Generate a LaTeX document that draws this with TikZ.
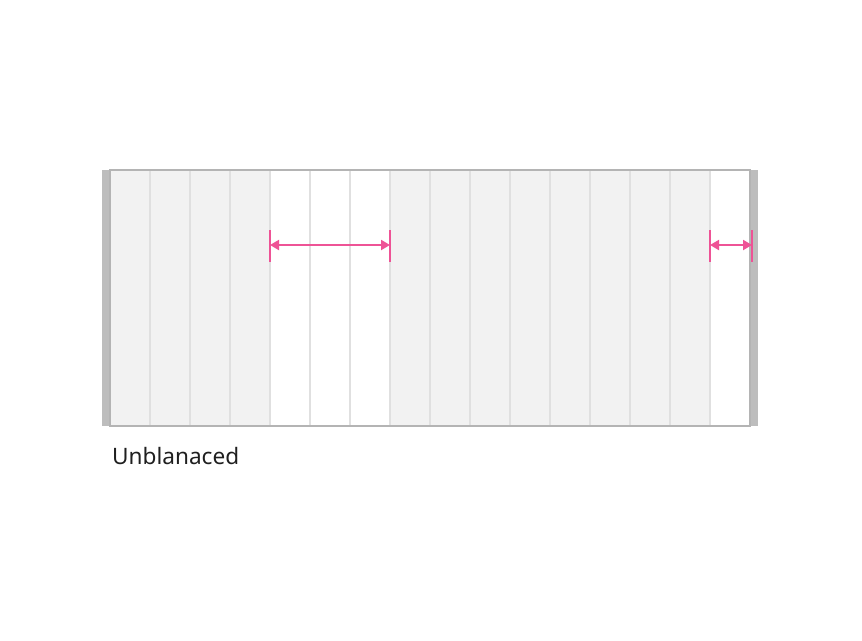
\documentclass[tikz,border=0pt]{standalone}
\usepackage{fontspec}
\setmainfont{Noto Sans}
\usetikzlibrary{arrows.meta,positioning}
\definecolor{colfill}{HTML}{F2F2F2}
\definecolor{colline}{HTML}{E0E0E0}
\definecolor{frameline}{HTML}{B4B4B4}
\definecolor{gutterbar}{HTML}{BDBDBD}
\definecolor{markpink}{HTML}{EE5396}

\begin{document}
\begin{tikzpicture}[x=1pt,y=-1pt,>={Triangle[length=9pt,width=10pt]},
   every node/.style={font=\fontsize{22.6}{27}\selectfont},
   mark line/.style={markpink,line width=2pt},
   tick/.style={markpink,line width=2pt}]
  \useasboundingbox (0,0) rectangle (862,640);
  % gutters
  \fill[gutterbar] (102,170) rectangle (110,426);
  \fill[gutterbar] (750,170) rectangle (758,426);
  % columns
  \foreach \i in {0,1,2,3,7,8,9,10,11,12,13,14}
    \fill[colfill] ({110+40*\i},170) rectangle +(40,256);
  \foreach \i in {1,...,15}
    \draw[colline,line width=1.2pt] ({110+40*\i},170) -- ++(0,256);
  \draw[frameline,line width=1.2pt] (110,170) rectangle (750,426);
  % measures
  \coordinate (la) at (270,245);
  \coordinate (lb) at (390,245);
  \coordinate (ra) at (710,245);
  \coordinate (rb) at (752,245);
  \foreach \p in {la,lb,ra,rb}
    \draw[tick] ([yshift=15pt]\p) -- ([yshift=-17pt]\p);
  \draw[mark line,<->] (la) -- (lb);
  \draw[mark line,<->] (ra) -- (rb);
  \node[anchor=base west,inner sep=0pt,text=black!88] (caption) at (112,464) {Unblanaced};
\end{tikzpicture}
\end{document}
